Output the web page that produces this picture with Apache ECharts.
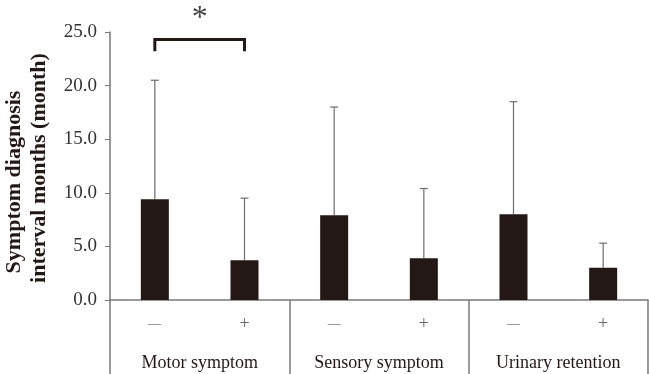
<!DOCTYPE html>
<html>
<head>
<meta charset="utf-8">
<script src="https://cdn.jsdelivr.net/npm/echarts@6/dist/echarts.min.js"></script>
<style>
html,body{margin:0;padding:0;background:#fff}
#chart{width:649px;height:374px}
</style>
</head>
<body>
<div id="chart"></div>
<script>
var signs = ['\u2014', '+', '\u2014', '+', '\u2014', '+'];
var groups = ['Motor symptom', 'Sensory symptom', 'Urinary retention'];
var means = [9.4, 3.7, 7.9, 3.9, 8.0, 3.0];
var upper = [20.5, 9.5, 18.0, 10.4, 18.5, 5.3];
var yTicks = [0, 5, 10, 15, 20, 25];
// significance bracket: between bar 0 and bar 1
var sig = [[0, 1, 24.3, 23.2]];

var serif = "'Times New Roman','Liberation Serif',serif";
var myChart = echarts.init(document.getElementById('chart'));

var errData = means.map(function (m, i) { return [i, m, upper[i]]; });

var option = {
    animation: false,
    backgroundColor: '#fff',
    grid: {
        left: 110,
        right: 1,
        top: 32,
        bottom: 74
    },
    xAxis: [{
        type: 'category',
        data: signs,
        position: 'bottom',
        axisLine: { show: true, lineStyle: { color: '#7a7a7a', width: 1.5 } },
        axisTick: { show: false },
        axisLabel: {
            margin: 14,
            formatter: function (v) { return v === '+' ? '{p|' + v + '}' : '{m|' + v + '}'; },
            rich: {
                m: { color: '#666', fontFamily: serif, fontSize: 13, height: 20 },
                p: { color: '#666', fontFamily: serif, fontSize: 18, height: 20 }
            }
        },
        splitLine: { show: false }
    }, {
        type: 'category',
        data: groups,
        position: 'bottom',
        axisLine: { show: false },
        axisTick: { show: true, length: 74, inside: false, lineStyle: { color: '#7a7a7a', width: 1.5 } },
        axisLabel: { color: '#231815', fontFamily: serif, fontSize: 18, margin: 54 },
        splitLine: { show: false }
    }],
    yAxis: {
        type: 'value',
        min: yTicks[0],
        max: yTicks[yTicks.length - 1],
        interval: yTicks[1] - yTicks[0],
        axisLine: { show: true, lineStyle: { color: '#7a7a7a', width: 1.5 } },
        axisTick: { show: true, length: 5, lineStyle: { color: '#7a7a7a' } },
        axisLabel: {
            color: '#333', fontFamily: serif, fontSize: 19, margin: 13,
            formatter: function (v) { return v.toFixed(1); }
        },
        splitLine: { show: false }
    },
    graphic: [{
        type: 'text',
        x: 14, y: 182,
        rotation: Math.PI / 2,
        style: {
            text: 'Symptom diagnosis',
            fontFamily: serif, fontWeight: 'bold', fontSize: 22,
            fill: '#231815', align: 'center', verticalAlign: 'middle'
        }
    }, {
        type: 'text',
        x: 39, y: 168,
        rotation: Math.PI / 2,
        style: {
            text: 'interval months (month)',
            fontFamily: serif, fontWeight: 'bold', fontSize: 22,
            fill: '#231815', align: 'center', verticalAlign: 'middle'
        }
    }],
    series: [{
        type: 'bar',
        data: means,
        barWidth: 28,
        itemStyle: { color: '#231815' },
        silent: true
    }, {
        type: 'custom',
        data: errData,
        silent: true,
        z: 1,
        renderItem: function (params, api) {
            var p0 = api.coord([api.value(0), api.value(1)]);
            var p1 = api.coord([api.value(0), api.value(2)]);
            var st = { stroke: '#6e6e6e', lineWidth: 1.2 };
            return {
                type: 'group',
                children: [{
                    type: 'line',
                    shape: { x1: p0[0], y1: p0[1], x2: p1[0], y2: p1[1] },
                    style: st
                }, {
                    type: 'line',
                    shape: { x1: p1[0] - 4, y1: p1[1], x2: p1[0] + 4, y2: p1[1] },
                    style: st
                }]
            };
        }
    }, {
        type: 'custom',
        data: sig,
        silent: true,
        clip: false,
        renderItem: function (params, api) {
            var a = api.coord([api.value(0), api.value(2)]);
            var b = api.coord([api.value(1), api.value(2)]);
            var legY = api.coord([api.value(0), api.value(3)])[1];
            return {
                type: 'group',
                children: [{
                    type: 'polyline',
                    shape: { points: [[a[0], legY], [a[0], a[1]], [b[0], b[1]], [b[0], legY]] },
                    style: { stroke: '#231815', lineWidth: 3, fill: null }
                }, {
                    type: 'text',
                    x: (a[0] + b[0]) / 2,
                    y: a[1] - 21,
                    style: {
                        text: '*', fontFamily: serif, fontSize: 32,
                        fill: '#444', align: 'center', verticalAlign: 'middle'
                    }
                }]
            };
        }
    }]
};
myChart.setOption(option);
</script>
</body>
</html>
